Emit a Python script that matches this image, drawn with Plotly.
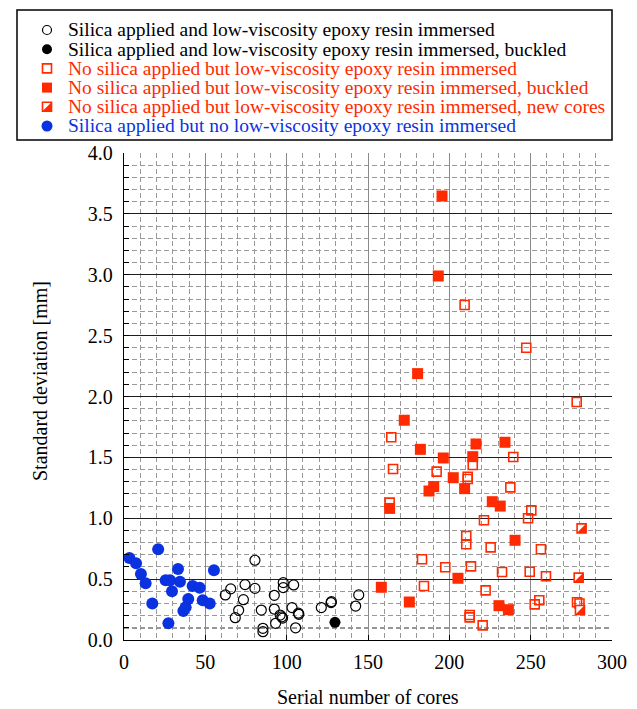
import plotly.graph_objects as go

# ---------------- data ----------------
silica_epoxy_x = [62.3, 65.6, 68.4, 70.5, 73.4, 74.4, 80.5, 80.5, 84.4, 85.4, 85.4, 92.4, 92.4, 93.2,
                  96.0, 97.0, 97.5, 97.9, 97.9, 103.3, 104.3, 105.5, 107.2, 107.5, 121.3, 127.3,
                  127.5, 142.4, 144.3]
silica_epoxy_y = [0.37, 0.42, 0.183, 0.244, 0.331, 0.455, 0.655, 0.424, 0.246, 0.096, 0.068, 0.367,
                  0.254, 0.137, 0.205, 0.19, 0.18, 0.471, 0.43, 0.266, 0.452, 0.10, 0.22, 0.211,
                  0.266, 0.307, 0.315, 0.279, 0.37]

silica_epoxy_buckled_x = [129.7]
silica_epoxy_buckled_y = [0.145]

nosilica_epoxy_x = [163.3, 164.3, 165.4, 183.2, 184.4, 192.2, 197.5, 209.4, 210.4, 210.4, 211.3,
                    211.3, 212.5, 212.5, 213.3, 214.4, 220.5, 221.3, 222.3, 225.4, 232.4, 237.5,
                    239.3, 247.3, 248.4, 249.4, 250.4, 252.5, 255.3, 256.3, 259.4, 278.3, 278.5,
                    280.0]
nosilica_epoxy_y = [1.128, 1.665, 1.405, 0.663, 0.443, 1.383, 0.597, 2.751, 0.854, 0.786, 1.341,
                    1.322, 0.205, 0.186, 0.605, 1.437, 0.12, 0.983, 0.408, 0.761, 0.558, 1.254,
                    1.503, 2.40, 1.0, 0.561, 1.065, 0.293, 0.326, 0.745, 0.523, 1.955, 0.31,
                    0.30]

nosilica_epoxy_buckled_x = [158.2, 163.3, 172.3, 175.4, 180.5, 182.2, 187.5, 190.4, 193.2, 195.5,
                            196.3, 202.4, 205.3, 209.4, 214.4, 216.4, 226.4, 230.5, 231.3, 234.2,
                            236.3, 240.4]
nosilica_epoxy_buckled_y = [0.433, 1.081, 1.805, 0.312, 2.188, 1.566, 1.224, 1.26, 2.99, 3.647,
                            1.495, 1.333, 0.507, 1.243, 1.506, 1.61, 1.136, 0.282, 1.10, 1.624,
                            0.249, 0.819]

nosilica_epoxy_new_x = [281.3, 279.5, 280.3]
nosilica_epoxy_new_y = [0.917, 0.512, 0.246]

silica_noepoxy_x = [3.3, 7.4, 10.4, 13.3, 17.4, 21.0, 25.6, 27.3, 28.3, 29.5, 33.2, 34.4, 36.5,
                    37.9, 39.5, 42.2, 46.5, 48.4, 52.7, 55.3]
silica_noepoxy_y = [0.673, 0.63, 0.542, 0.466, 0.30, 0.745, 0.49, 0.137, 0.49, 0.40, 0.583, 0.479,
                    0.238, 0.27, 0.337, 0.443, 0.43, 0.326, 0.30, 0.572]

legend_labels = [
    "Silica applied and low-viscosity epoxy resin immersed",
    "Silica applied and low-viscosity epoxy resin immersed, buckled",
    "No silica applied but low-viscosity epoxy resin immersed",
    "No silica applied but low-viscosity epoxy resin immersed, buckled",
    "No silica applied but low-viscosity epoxy resin immersed, new cores",
    "Silica applied but no low-viscosity epoxy resin immersed",
]

x_ticks = [0, 50, 100, 150, 200, 250, 300]
y_ticks = [0.0, 0.5, 1.0, 1.5, 2.0, 2.5, 3.0, 3.5, 4.0]

# ---------------- styling ----------------
WIN_W, WIN_H = 637, 709
OFF = 8                                  # page body margin of the html page
W, H = WIN_W - OFF, WIN_H - OFF          # figure size so the page fits the window
L, R, T, B = 124, 612, 153, 640          # plot area in window px
LEG = (17, 612, 10, 140)                 # legend box in window px
RED = "#ff2a00"
BLUE = "#0b32e0"
FONT = "Liberation Serif"
SQ = 9            # open/half square size
TRI_SHIFT = 1.5   # px shift so the triangle fills the lower-right half
CLEAR = "rgba(0,0,0,0)"

def fx(p):
    return (p - OFF) / W

def fy(p):
    return 1 - (p - OFF) / H

fig = go.Figure()

common = dict(mode="markers", showlegend=False, cliponaxis=False)

fig.add_trace(go.Scatter(x=silica_epoxy_x, y=silica_epoxy_y,
                         marker=dict(symbol="circle-open", size=10, color="black",
                                     line=dict(width=1.2, color="black")), **common))
fig.add_trace(go.Scatter(x=silica_epoxy_buckled_x, y=silica_epoxy_buckled_y,
                         marker=dict(symbol="circle", size=11, color="black"), **common))
fig.add_trace(go.Scatter(x=silica_noepoxy_x, y=silica_noepoxy_y,
                         marker=dict(symbol="circle", size=12, color=BLUE), **common))
fig.add_trace(go.Scatter(x=nosilica_epoxy_x, y=nosilica_epoxy_y,
                         marker=dict(symbol="square-open", size=SQ, color=RED,
                                     line=dict(width=1.6, color=RED)), **common))
fig.add_trace(go.Scatter(x=nosilica_epoxy_buckled_x, y=nosilica_epoxy_buckled_y,
                         marker=dict(symbol="square", size=11, color=RED,
                                     line=dict(width=0)), **common))
fig.add_trace(go.Scatter(x=nosilica_epoxy_new_x, y=nosilica_epoxy_new_y,
                         marker=dict(symbol="square", size=SQ, color="white",
                                     line=dict(width=1.6, color=RED)), **common))
fig.add_trace(go.Scatter(x=nosilica_epoxy_new_x, y=nosilica_epoxy_new_y, xaxis="x3", yaxis="y3",
                         marker=dict(symbol="triangle-se", size=SQ / 0.9 + 0.6, color=RED,
                                     line=dict(width=0)), **common))

# ---------------- manual legend ----------------
row_y = [30 + i * 19.2 for i in range(len(legend_labels))]
mx = 47
leg_common = dict(mode="markers", showlegend=False, xaxis="x2", yaxis="y2", hoverinfo="skip",
                  cliponaxis=False)
fig.add_trace(go.Scatter(x=[mx], y=[row_y[0]], marker=dict(symbol="circle-open", size=9,
                         color="black", line=dict(width=1.2, color="black")), **leg_common))
fig.add_trace(go.Scatter(x=[mx], y=[row_y[1]], marker=dict(symbol="circle", size=10,
                         color="black"), **leg_common))
fig.add_trace(go.Scatter(x=[mx], y=[row_y[2]], marker=dict(symbol="square-open", size=SQ,
                         color=RED, line=dict(width=1.6, color=RED)), **leg_common))
fig.add_trace(go.Scatter(x=[mx], y=[row_y[3]], marker=dict(symbol="square", size=10,
                         color=RED, line=dict(width=0)), **leg_common))
fig.add_trace(go.Scatter(x=[mx], y=[row_y[4]], marker=dict(symbol="square", size=SQ,
                         color="white", line=dict(width=1.6, color=RED)), **leg_common))
fig.add_trace(go.Scatter(x=[mx + TRI_SHIFT], y=[row_y[4] + TRI_SHIFT],
                         marker=dict(symbol="triangle-se", size=SQ / 0.9 + 0.6, color=RED,
                                     line=dict(width=0)), **leg_common))
fig.add_trace(go.Scatter(x=[mx], y=[row_y[5]], marker=dict(symbol="circle", size=11,
                         color=BLUE), **leg_common))

leg_colors = ["black", "black", RED, RED, RED, BLUE]
annotations = []
for lab, yy, col in zip(legend_labels, row_y, leg_colors):
    annotations.append(dict(x=66, y=yy, xref="x2", yref="y2", text=lab, showarrow=False,
                            xanchor="left", yanchor="middle",
                            font=dict(family=FONT, size=19.5, color=col)))

# axis titles
annotations.append(dict(x=fx(368), y=fy(697), xref="paper", yref="paper",
                        text="Serial number of cores", showarrow=False,
                        xanchor="center", yanchor="middle",
                        font=dict(family=FONT, size=20, color="black")))
annotations.append(dict(x=fx(40), y=fy(381), xref="paper", yref="paper",
                        text="Standard deviation [mm]", showarrow=False, textangle=-90,
                        xanchor="center", yanchor="middle",
                        font=dict(family=FONT, size=20, color="black")))

shapes = [
    dict(type="line", xref="x", yref="y", x0=x_ticks[0], x1=x_ticks[-1], y0=0.1, y1=0.1,
         line=dict(color="#2a2a2a", width=1.3, dash="5px,3px"), layer="below"),
    dict(type="rect", xref="paper", yref="paper", x0=fx(LEG[0]), x1=fx(LEG[1]),
         y0=fy(LEG[3]), y1=fy(LEG[2]), line=dict(color="black", width=1.5),
         fillcolor=CLEAR, layer="above"),
]

tickfont = dict(family=FONT, size=20, color="black")
fig.update_layout(
    width=W, height=H, autosize=False,
    margin=dict(l=0, r=0, t=0, b=0, pad=0),
    paper_bgcolor="white", plot_bgcolor=CLEAR,
    font=dict(family=FONT, color="black"),
    xaxis=dict(domain=[fx(L), fx(R)], range=[x_ticks[0], x_ticks[-1]],
               tickmode="linear", tick0=x_ticks[0], dtick=x_ticks[1] - x_ticks[0],
               tickfont=tickfont, automargin=False, ticklabelstandoff=4,
               showline=True, linecolor="black", linewidth=1.3,
               ticks="inside", ticklen=5, tickcolor="black",
               showgrid=True, gridcolor="#8a8a8a", gridwidth=1.2, zeroline=False,
               minor=dict(dtick=10, showgrid=True, gridcolor="#999999", gridwidth=1,
                          griddash="5px,3px"),
               fixedrange=True, anchor="y"),
    yaxis=dict(domain=[fy(B), fy(T)], range=[y_ticks[0], y_ticks[-1]],
               tickmode="linear", tick0=y_ticks[0], dtick=y_ticks[1] - y_ticks[0],
               tickformat=".1f", tickfont=tickfont, automargin=False, ticklabelstandoff=6,
               showline=True, linecolor="black", linewidth=1.3,
               ticks="inside", ticklen=5, tickcolor="black",
               showgrid=True, gridcolor="#1e1e1e", gridwidth=1.3, zeroline=False,
               minor=dict(dtick=0.1, showgrid=True, gridcolor="#999999", gridwidth=1,
                          griddash="5px,3px", ticks="inside", ticklen=5, tickcolor="black"),
               fixedrange=True, anchor="x"),
    xaxis2=dict(domain=[fx(LEG[0]), fx(LEG[1])], range=[LEG[0], LEG[1]], visible=False,
                anchor="y2", fixedrange=True),
    yaxis2=dict(domain=[fy(LEG[3]), fy(LEG[2])], range=[LEG[3], LEG[2]], visible=False,
                anchor="x2", fixedrange=True),
    xaxis3=dict(domain=[fx(L + TRI_SHIFT), fx(R + TRI_SHIFT)], range=[x_ticks[0], x_ticks[-1]],
                visible=False, anchor="y3", fixedrange=True),
    yaxis3=dict(domain=[fy(B + TRI_SHIFT), fy(T + TRI_SHIFT)], range=[y_ticks[0], y_ticks[-1]],
                visible=False, anchor="x3", fixedrange=True),
    annotations=annotations,
    shapes=shapes,
)

fig.write_html("out.html")
